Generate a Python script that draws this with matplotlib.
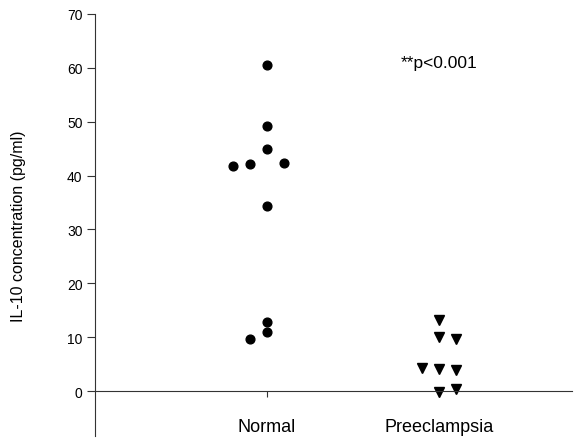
import numpy as np
import matplotlib
matplotlib.use("Agg")
import matplotlib.pyplot as plt

plt.rcParams['font.family'] = ['Liberation Sans', 'DejaVu Sans']

# groups on the x axis
groups = ["Normal", "Preeclampsia"]

# IL-10 values (pg/ml), with their column slot
normal_vals = [60.4, 49.1, 45.0, 41.8, 42.1, 42.4, 34.3, 12.9, 10.9, 9.6]
normal_slot = [0, 0, 0, -2, -1, 1, 0, 0, 0, -1]
pre_vals = [13.2, 10.1, 9.6, 4.3, 4.2, 3.9, -0.1, 0.4]
pre_slot = [0, 0, 1, -1, 0, 1, 0, 1]

yticks = [0, 10, 20, 30, 40, 50, 60, 70]
note = "**p<0.001"

step = 0.1  # spacing between side-by-side points

fig = plt.figure(figsize=(5.74, 4.39), dpi=100)
ax = fig.add_axes([95 / 574, 2 / 439, 477 / 574, 422.3 / 439])

ax.plot(1 + np.array(normal_slot) * step, normal_vals, 'o', color='black',
        markersize=6.3, linestyle='none', clip_on=False)
ax.plot(2 + np.array(pre_slot) * step, pre_vals, 'v', color='black',
        markersize=7, linestyle='none', clip_on=False)

ax.set_xlim(0.0, 2.775)
ax.set_ylim(-8.3, 70)

ax.spines['top'].set_visible(False)
ax.spines['right'].set_visible(False)
ax.spines['bottom'].set_position(('data', 0))
for s in ('left', 'bottom'):
    ax.spines[s].set_linewidth(0.8)
    ax.spines[s].set_color('#333333')

ax.set_yticks(yticks)
ax.set_xticks([1, 2])
ax.set_xticklabels(groups, fontsize=13)
ax.tick_params(axis='y', direction='out', length=6, width=0.8, pad=3,
               labelsize=10, color='#333333')
ax.tick_params(axis='x', direction='out', length=4.5, width=0.8, pad=15,
               color='#333333')

ax.set_ylabel("IL-10 concentration (pg/ml)", fontsize=11.5)
ax.yaxis.set_label_coords(-0.145, 0.5)

ax.text(2.0, 61.0, note, fontsize=12.5, ha='center', va='center')

fig.savefig("out.png", dpi=100)
